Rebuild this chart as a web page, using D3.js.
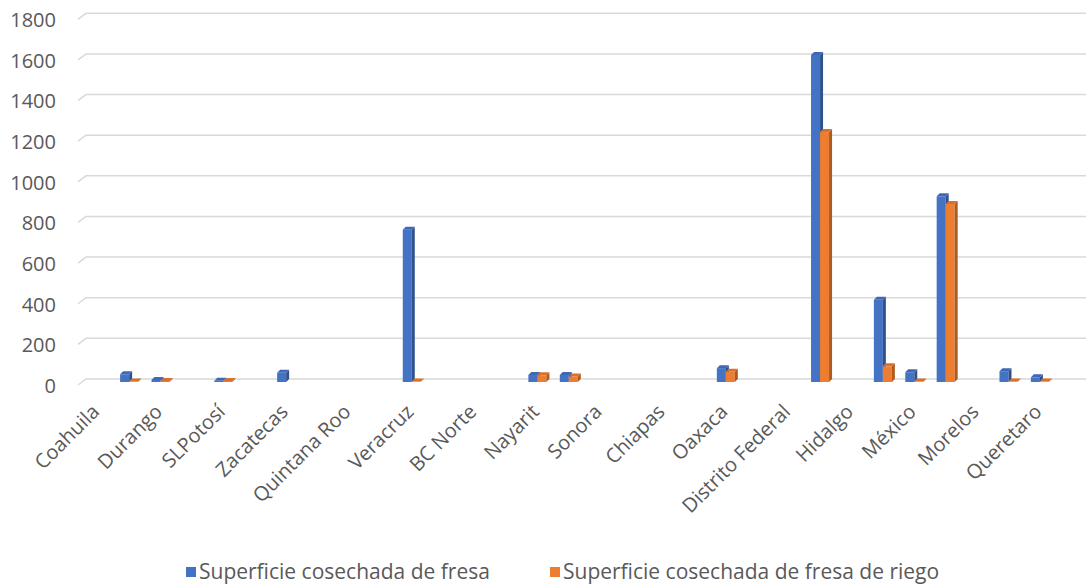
<!DOCTYPE html>
<html>
<head>
<meta charset="utf-8">
<script src="https://cdn.jsdelivr.net/npm/d3@7"></script>
<style>
  html, body { margin: 0; padding: 0; background: #fff; }
  svg { display: block; }
  text { font-family: "Open Sans", sans-serif; fill: #595959; }
</style>
</head>
<body>
<svg id="chart" width="1086" height="586"></svg>
<script>
// ---- data ----
const categories = [
  "Coahuila", "Aguascalientes", "Durango", "Baja California Sur", "SLPotosí", "Campeche",
  "Zacatecas", "Chihuahua", "Quintana Roo", "Colima", "Veracruz", "Tabasco",
  "BC Norte", "Sinaloa", "Nayarit", "Jalisco", "Sonora", "Tamaulipas",
  "Chiapas", "Yucatán", "Oaxaca", "Guerrero", "Distrito Federal", "Michoacán",
  "Hidalgo", "Puebla", "México", "Guanajuato", "Morelos", "Tlaxcala",
  "Queretaro", "Nuevo León"
];
const tickLabels = [
  "Coahuila", "Durango", "SLPotosí", "Zacatecas", "Quintana Roo", "Veracruz",
  "BC Norte", "Nayarit", "Sonora", "Chiapas", "Oaxaca", "Distrito Federal",
  "Hidalgo", "México", "Morelos", "Queretaro"
];
const seriesNames = ["Superficie cosechada de fresa", "Superficie cosechada de fresa de riego"];
const fresa = [0, 38, 10, 0, 6, 0, 45, 0, 0, 0, 750, 0, 0, 0, 35, 35,
               0, 0, 0, 0, 68, 0, 0, 1610, 0, 405, 48, 914, 0, 53, 23, 0];
const riego = [0, 2, 5, 0, 5, 0, 0, 0, 0, 0, 2, 0, 0, 0, 33, 27,
               0, 0, 0, 0, 50, 0, 0, 1230, 0, 77, 2, 876, 0, 2, 2, 0];
const yTicks = [0, 200, 400, 600, 800, 1000, 1200, 1400, 1600, 1800];

// ---- styles ----
const colors = [
  { front: "#4472C4", side: "#2F528F", top: "#3E68B5" },
  { front: "#ED7D31", side: "#AE5A21", top: "#D9702B" }
];

const svg = d3.select("#chart");
const depth = 3;

const x = d3.scaleBand().domain(categories).range([82, 1087]).padding(0);
const xSub = d3.scaleBand().domain(seriesNames).range([-9, 9]).padding(0);
const y = d3.scaleLinear().domain([0, 1800]).range([379, 13.3]);

// gridlines (3D back wall + floor slant)
svg.append("g").selectAll("path").data(yTicks).join("path")
  .attr("d", t => `M78,${y(t) + 6}L86,${y(t)}L1086,${y(t)}`)
  .attr("fill", "none")
  .attr("stroke", "#d9d9d9")
  .attr("stroke-width", 1.5);

// y axis labels
const yAxis = svg.append("g")
  .attr("transform", "translate(56,7)")
  .call(d3.axisLeft(y).tickValues(yTicks).tickSize(0).tickPadding(0).tickFormat(d3.format("d")));
yAxis.select(".domain").remove();
yAxis.selectAll("text")
  .style("font-family", "'Open Sans', sans-serif")
  .style("font-size", "20px")
  .attr("fill", "#595959");

// bars
const bars = [];
categories.forEach((c, i) => {
  [fresa[i], riego[i]].forEach((v, s) => {
    if (v > 0) bars.push({ c, s, v });
  });
});

const gBars = svg.append("g");
bars.forEach(b => {
  const x0 = x(b.c) + x.bandwidth() / 2 + xSub(seriesNames[b.s]);
  const w = xSub.bandwidth();
  const yTop = y(b.v) + depth;
  const yBot = y(0) + depth;
  const col = colors[b.s];
  const g = gBars.append("g");
  g.append("rect")
    .attr("x", x0).attr("y", yTop)
    .attr("width", w).attr("height", Math.max(0, yBot - yTop))
    .attr("fill", col.front);
  g.append("path")
    .attr("d", `M${x0 + w},${yTop}L${x0 + w + depth},${yTop - depth}L${x0 + w + depth},${yBot - depth}L${x0 + w},${yBot}Z`)
    .attr("fill", col.side);
  g.append("path")
    .attr("d", `M${x0},${yTop}L${x0 + depth},${yTop - depth}L${x0 + w + depth},${yTop - depth}L${x0 + w},${yTop}Z`)
    .attr("fill", col.top);
});

// x axis labels (every other category)
const xAxis = svg.append("g")
  .call(d3.axisBottom(x).tickValues(tickLabels).tickSize(0));
xAxis.select(".domain").remove();
xAxis.selectAll("text")
  .attr("x", 0).attr("y", 0).attr("dy", 0)
  .attr("transform", "translate(3,413) rotate(-45)")
  .attr("text-anchor", "end")
  .style("font-family", "'Open Sans', sans-serif")
  .style("font-size", "20px")
  .attr("fill", "#595959");

// legend
const legendX = [186, 550];
const legend = svg.append("g");
seriesNames.forEach((name, i) => {
  legend.append("rect")
    .attr("x", legendX[i]).attr("y", 567)
    .attr("width", 10).attr("height", 10)
    .attr("fill", colors[i].front);
  legend.append("text")
    .attr("x", legendX[i] + 13).attr("y", 579)
    .style("font-size", "21px")
    .text(name);
});
</script>
</body>
</html>
